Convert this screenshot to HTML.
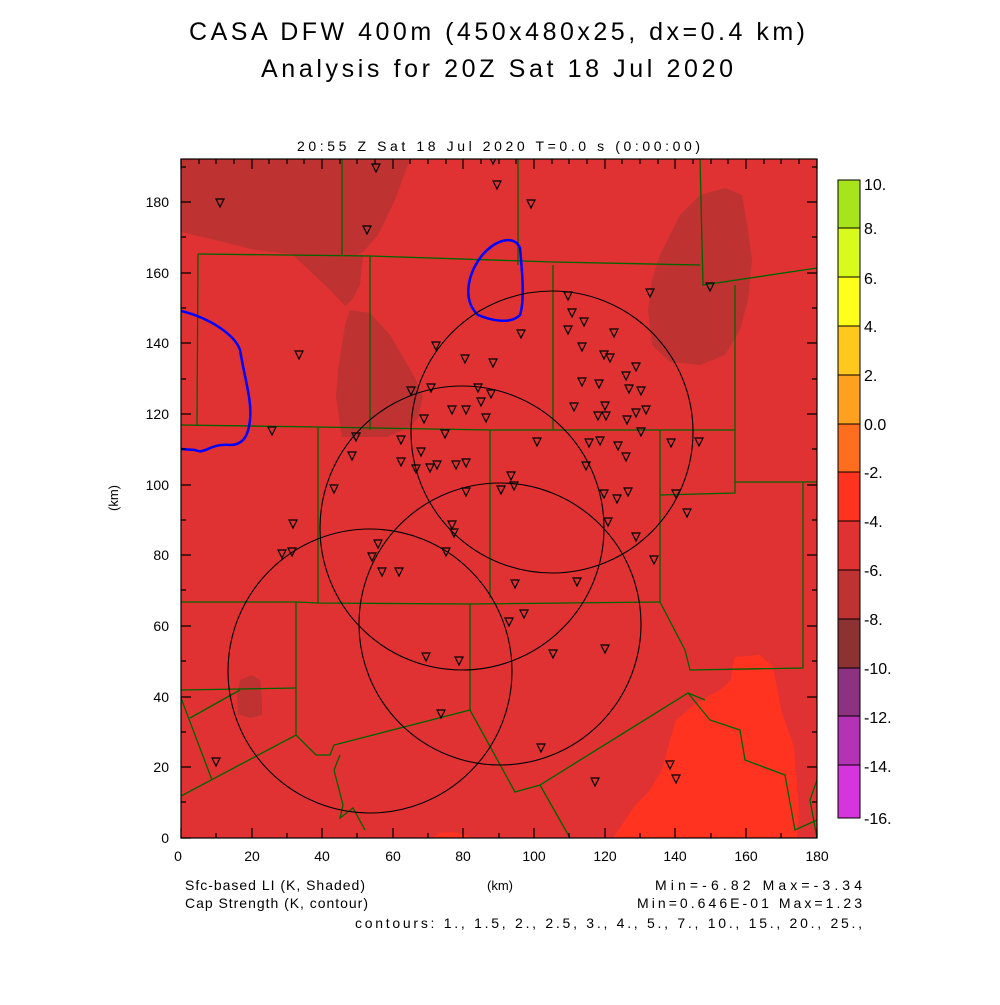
<!DOCTYPE html>
<html><head><meta charset="utf-8"><style>
body{margin:0;background:#fff;}
svg text{font-family:"Liberation Sans",sans-serif;fill:#000;}
</style></head><body>
<svg width="1000" height="1000" viewBox="0 0 1000 1000" xmlns="http://www.w3.org/2000/svg">
<rect width="1000" height="1000" fill="#fff"/>
<text x="189" y="40" font-size="25" textLength="616" lengthAdjust="spacing">CASA DFW 400m (450x480x25, dx=0.4 km)</text>
<text x="261" y="77" font-size="25" textLength="472" lengthAdjust="spacing">Analysis for 20Z Sat 18 Jul 2020</text>
<text x="297" y="151" font-size="14" textLength="403" lengthAdjust="spacing">20:55 Z Sat 18 Jul 2020    T=0.0 s (0:00:00)</text>
<defs><clipPath id="c"><rect x="181" y="159" width="636" height="679"/></clipPath></defs>
<g clip-path="url(#c)">
<rect x="181" y="159" width="636" height="679" fill="#e03232"/>
<polygon fill="#be3232" points="181,159 410,159 395,200 378,235 363,252 350,258 300,255 255,250 215,240 181,232"/>
<polygon fill="#be3232" points="293,255 363,255 360,285 352,300 345,306 330,290"/>
<polygon fill="#be3232" points="350,310 370,313 390,335 403,357 415,378 423,397 418,418 410,427 387,437 342,437 336,397 338,370 340,357 345,325"/>
<polygon fill="#be3232" points="660,255 680,215 700,195 725,188 742,195 748,230 752,260 748,300 740,330 725,355 700,365 670,362 652,345 648,310 652,280"/>
<polygon fill="#be3232" points="240,680 252,675 260,680 262,700 262,715 250,718 238,714 237,695"/>
<polygon fill="#ff3320" points="735,657 760,655 773,667 782,713 794,747 799,813 797,838 613,838 634,807 650,790 662,770 668,747 676,720 697,703 720,690 731,680 733,665"/>
<polygon fill="#ff3320" points="432,838 440,833 455,832 468,836 470,838"/>
<g fill="none" stroke="#006400" stroke-width="1.3">
<polyline points="342,159 342,255"/>
<polyline points="518,159 518,265"/>
<polyline points="700,159 703,285 817,268"/>
<polyline points="198,254 370,256 553,262 700,265"/>
<polyline points="198,254 197,425"/>
<polyline points="370,256 370,430"/>
<polyline points="553,265 553,430"/>
<polyline points="181,425 318,427 490,430 655,430 735,430"/>
<polyline points="735,285 735,493 660,495"/>
<polyline points="735,482 803,482 817,482"/>
<polyline points="803,482 803,668 690,670 685,650 660,602"/>
<polyline points="318,427 318,603"/>
<polyline points="490,430 490,598"/>
<polyline points="181,602 296,602 318,603 470,604 660,602"/>
<polyline points="660,430 660,602"/>
<polyline points="296,602 296,735"/>
<polyline points="181,690 296,688"/>
<polyline points="190,718 240,690"/>
<polyline points="181,698 212,780"/>
<polyline points="181,796 296,735 316,755 330,755 334,745 470,710 470,604"/>
<polyline points="470,710 515,792 540,785 688,693 705,700"/>
<polyline points="340,755 334,770 343,805 340,818 353,808 365,830"/>
<polyline points="540,785 570,838"/>
<polyline points="688,693 710,720 740,730 745,760 785,775 795,830 817,820"/>
<polyline points="817,780 810,800 817,838"/>
</g>
<g fill="none" stroke="#0000ff" stroke-width="2.5">
<path d="M181,311 C210,318 235,335 240,350 C245,380 252,400 250,420 C248,440 240,445 230,445 C210,443 205,455 195,450 L181,449"/>
<path d="M480,258 C495,238 515,235 520,248 C522,270 525,300 520,315 C510,325 490,320 478,315 C462,300 468,275 480,258 Z"/>
</g>
<g fill="none" stroke="#000" stroke-width="1.1">
<circle cx="552" cy="432" r="141"/>
<circle cx="462" cy="528" r="142"/>
<circle cx="500" cy="624" r="141"/>
<circle cx="370" cy="671" r="142"/>
</g>
</g>
<g fill="none" stroke="#000" stroke-width="1.2" clip-path="url(#c)">
<path d="M216,199h8l-4,8z M372,164h8l-4,8z M489,156h8l-4,8z M493,181h8l-4,8z M527,200h8l-4,8z M363,226h8l-4,8z M564,292h8l-4,8z M568,309h8l-4,8z M580,318h8l-4,8z M610,329h8l-4,8z M517,330h8l-4,8z M646,289h8l-4,8z M706,283h8l-4,8z M295,351h8l-4,8z M432,342h8l-4,8z M461,355h8l-4,8z M489,359h8l-4,8z M564,326h8l-4,8z M578,343h8l-4,8z M600,351h8l-4,8z M606,354h8l-4,8z M632,363h8l-4,8z M622,372h8l-4,8z M578,378h8l-4,8z M595,380h8l-4,8z M625,385h8l-4,8z M637,387h8l-4,8z M407,387h8l-4,8z M427,384h8l-4,8z M474,384h8l-4,8z M487,390h8l-4,8z M448,406h8l-4,8z M462,406h8l-4,8z M477,398h8l-4,8z M482,414h8l-4,8z M570,403h8l-4,8z M601,402h8l-4,8z M594,412h8l-4,8z M602,412h8l-4,8z M623,416h8l-4,8z M632,409h8l-4,8z M642,406h8l-4,8z M637,428h8l-4,8z M420,415h8l-4,8z M441,430h8l-4,8z M397,436h8l-4,8z M417,448h8l-4,8z M352,433h8l-4,8z M348,452h8l-4,8z M268,427h8l-4,8z M533,438h8l-4,8z M585,439h8l-4,8z M596,437h8l-4,8z M614,442h8l-4,8z M622,453h8l-4,8z M667,439h8l-4,8z M695,438h8l-4,8z M397,458h8l-4,8z M412,465h8l-4,8z M426,464h8l-4,8z M433,461h8l-4,8z M452,461h8l-4,8z M462,459h8l-4,8z M507,472h8l-4,8z M582,462h8l-4,8z M330,485h8l-4,8z M462,488h8l-4,8z M497,486h8l-4,8z M510,482h8l-4,8z M600,490h8l-4,8z M613,495h8l-4,8z M624,488h8l-4,8z M289,520h8l-4,8z M278,550h8l-4,8z M288,548h8l-4,8z M448,521h8l-4,8z M450,529h8l-4,8z M604,518h8l-4,8z M632,533h8l-4,8z M672,490h8l-4,8z M683,509h8l-4,8z M650,556h8l-4,8z M374,540h8l-4,8z M368,553h8l-4,8z M378,568h8l-4,8z M395,568h8l-4,8z M442,548h8l-4,8z M511,580h8l-4,8z M573,578h8l-4,8z M520,610h8l-4,8z M505,618h8l-4,8z M422,653h8l-4,8z M455,657h8l-4,8z M549,650h8l-4,8z M601,645h8l-4,8z M437,710h8l-4,8z M212,758h8l-4,8z M537,744h8l-4,8z M591,778h8l-4,8z M666,761h8l-4,8z M672,775h8l-4,8z"/>
</g>
<rect x="181" y="159" width="636" height="679" fill="none" stroke="#000" stroke-width="1.2"/>
<g stroke="#000" stroke-width="1.2">
<path d="M181,838v-10 M252,838v-10 M322,838v-10 M393,838v-10 M463,838v-10 M534,838v-10 M605,838v-10 M675,838v-10 M746,838v-10 M817,838v-10
M216,838v-5 M287,838v-5 M357,838v-5 M428,838v-5 M499,838v-5 M569,838v-5 M640,838v-5 M711,838v-5 M781,838v-5
M181,159v10 M252,159v10 M322,159v10 M393,159v10 M463,159v10 M534,159v10 M605,159v10 M675,159v10 M746,159v10 M817,159v10
M199,159v5 M216,159v5 M234,159v5 M269,159v5 M287,159v5 M304,159v5 M340,159v5 M357,159v5 M375,159v5 M410,159v5 M428,159v5 M446,159v5 M481,159v5 M499,159v5 M516,159v5 M552,159v5 M569,159v5 M587,159v5 M622,159v5 M640,159v5 M658,159v5 M693,159v5 M711,159v5 M728,159v5 M764,159v5 M781,159v5 M799,159v5
M181,838h10 M181,767h10 M181,697h10 M181,626h10 M181,555h10 M181,485h10 M181,414h10 M181,343h10 M181,273h10 M181,202h10
M181,802h5 M181,732h5 M181,661h5 M181,590h5 M181,520h5 M181,449h5 M181,379h5 M181,308h5 M181,237h5 M181,167h5
M817,767h-10 M817,697h-10 M817,626h-10 M817,555h-10 M817,485h-10 M817,414h-10 M817,343h-10 M817,273h-10 M817,202h-10
M817,802h-5 M817,732h-5 M817,661h-5 M817,590h-5 M817,520h-5 M817,449h-5 M817,379h-5 M817,308h-5 M817,237h-5 M817,167h-5"/>
</g>
<g font-size="14" text-anchor="middle">
<text x="178" y="861">0</text><text x="252" y="861">20</text><text x="322" y="861">40</text><text x="393" y="861">60</text><text x="463" y="861">80</text><text x="534" y="861">100</text><text x="605" y="861">120</text><text x="675" y="861">140</text><text x="746" y="861">160</text><text x="817" y="861">180</text>
</g>
<g font-size="14" text-anchor="end">
<text x="169" y="843">0</text><text x="169" y="772">20</text><text x="169" y="702">40</text><text x="169" y="631">60</text><text x="169" y="560">80</text><text x="169" y="490">100</text><text x="169" y="419">120</text><text x="169" y="348">140</text><text x="169" y="278">160</text><text x="169" y="207">180</text>
</g>
<text x="118" y="498" font-size="13" text-anchor="middle" transform="rotate(-90 118 498)">(km)</text>
<text x="185" y="890" font-size="14" textLength="180" lengthAdjust="spacing">Sfc-based LI (K, Shaded)</text>
<text x="185" y="908" font-size="14" textLength="183" lengthAdjust="spacing">Cap Strength (K, contour)</text>
<text x="500" y="890" font-size="13" text-anchor="middle">(km)</text>
<text x="655" y="890" font-size="14" textLength="207" lengthAdjust="spacing">Min=-6.82 Max=-3.34</text>
<text x="637" y="908" font-size="14" textLength="225" lengthAdjust="spacing">Min=0.646E-01 Max=1.23</text>
<text x="355" y="928" font-size="14" textLength="507" lengthAdjust="spacing">contours: 1., 1.5, 2., 2.5, 3., 4., 5., 7., 10., 15., 20., 25.,</text>
<g stroke="#000" stroke-width="1">
<rect x="838" y="180" width="22" height="48" fill="#a8e41c"/>
<rect x="838" y="228" width="22" height="49" fill="#d8fa1c"/>
<rect x="838" y="277" width="22" height="49" fill="#ffff1c"/>
<rect x="838" y="326" width="22" height="49" fill="#ffc81e"/>
<rect x="838" y="375" width="22" height="49" fill="#ffa01e"/>
<rect x="838" y="424" width="22" height="48" fill="#ff6e1e"/>
<rect x="838" y="472" width="22" height="49" fill="#ff3320"/>
<rect x="838" y="521" width="22" height="49" fill="#e03232"/>
<rect x="838" y="570" width="22" height="49" fill="#be3232"/>
<rect x="838" y="619" width="22" height="49" fill="#8c3232"/>
<rect x="838" y="668" width="22" height="48" fill="#8c3280"/>
<rect x="838" y="716" width="22" height="49" fill="#b432b4"/>
<rect x="838" y="765" width="22" height="53" fill="#d634dc"/>
</g>
<g font-size="16">
<text x="864" y="190">10.</text><text x="864" y="234">8.</text><text x="864" y="284">6.</text><text x="864" y="332">4.</text><text x="864" y="381">2.</text><text x="864" y="430">0.0</text><text x="864" y="478">-2.</text><text x="864" y="527">-4.</text><text x="864" y="576">-6.</text><text x="864" y="625">-8.</text><text x="864" y="674">-10.</text><text x="864" y="723">-12.</text><text x="864" y="772">-14.</text><text x="864" y="824">-16.</text>
</g>
</svg>
</body></html>
